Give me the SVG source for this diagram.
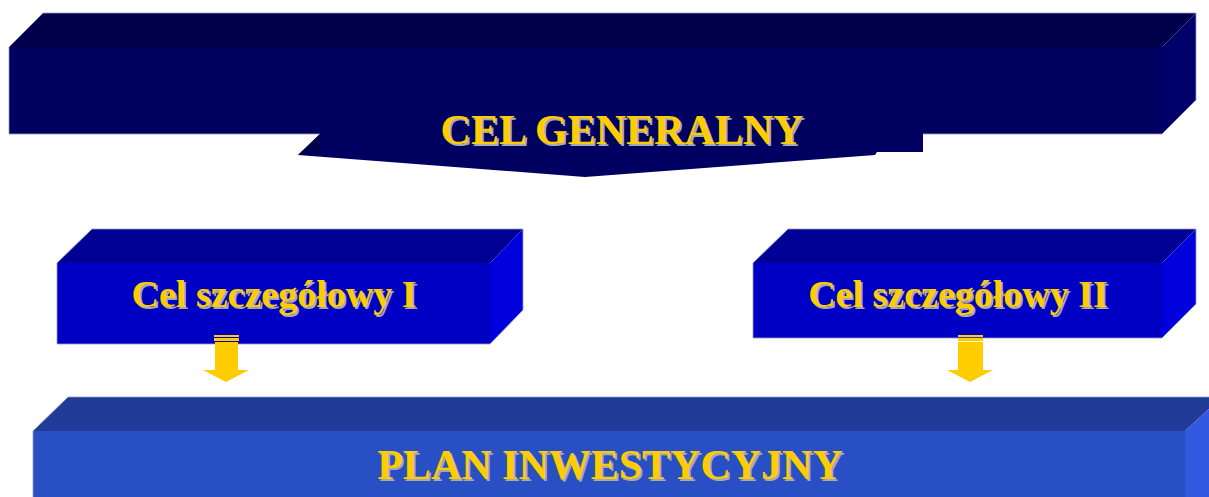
<svg xmlns="http://www.w3.org/2000/svg" width="1209" height="497" viewBox="0 0 1209 497">
<defs>
<style>
.t{font-family:"Liberation Serif","Times New Roman",serif;font-weight:bold;text-anchor:middle}
.sh{fill:#a8a8b0}
.fg{fill:#ffcc00}
.edge{fill:none;stroke:#9a9ac4;stroke-width:0.8}
.arrow{fill:#ffcc00}
</style>
</defs>
<rect width="1209" height="497" fill="#ffffff"/>
<g id="cel-generalny">
<polygon points="9,47 43,13 1196,13 1162,47" fill="#00004a"/>
<rect x="9" y="47" width="1153" height="87" fill="#000060"/>
<polygon points="1162,47 1196,13 1196,100 1162,134" fill="#00006a"/>
<polyline class="edge" points="9,134 9,47 43,13 1196,13 1196,100 1162,134 923,134"/>
<line class="edge" x1="9" y1="134" x2="320" y2="134"/>
<polygon points="320,134 923,134 923,152 877,152 875,155 585,177 298,155" fill="#000060"/>
<polygon points="298,155 320,134 320,152" fill="#00004a"/>
<rect x="320" y="120" width="603" height="20" fill="#000060"/>
<text class="t sh" x="624" y="146" font-size="42">CEL GENERALNY</text>
<text class="t fg" x="622" y="144" font-size="42">CEL GENERALNY</text>
</g>
<g id="cel-szczegolowy-1">
<polygon points="57,263 92,229 523,229 490,263" fill="#000094"/>
<rect x="57" y="263" width="433" height="81" fill="#0000c4"/>
<polygon points="490,263 523,229 523,310 490,344" fill="#0000dc"/>
<polygon class="edge" points="57,344 57,263 92,229 523,229 523,310 490,344"/>
<text class="t sh" x="276" y="309" font-size="38">Cel szczegółowy I</text>
<text class="t fg" x="274" y="307" font-size="38">Cel szczegółowy I</text>
</g>
<g id="cel-szczegolowy-2">
<polygon points="753,263 788,229 1196,229 1162,263" fill="#000094"/>
<rect x="753" y="263" width="409" height="75" fill="#0000c4"/>
<polygon points="1162,263 1196,229 1196,304 1162,338" fill="#0000dc"/>
<polygon class="edge" points="753,338 753,263 788,229 1196,229 1196,304 1162,338"/>
<text class="t sh" x="960" y="309" font-size="38">Cel szczegółowy II</text>
<text class="t fg" x="958" y="307" font-size="38">Cel szczegółowy II</text>
</g>
<g id="plan-inwestycyjny">
<polygon points="33,431 68,397 1222,397 1185,431" fill="#203c98"/>
<rect x="33" y="431" width="1152" height="80" fill="#2850c4"/>
<polygon points="1185,431 1222,397 1222,511 1185,511" fill="#3058e0"/>
<polyline class="edge" points="33,511 33,431 68,397 1222,397"/>
<text class="t sh" x="612" y="481" font-size="42">PLAN INWESTYCYJNY</text>
<text class="t fg" x="610" y="479" font-size="42">PLAN INWESTYCYJNY</text>
</g>
<g id="connectors">
<g>
<rect class="arrow" x="214" y="335" width="25" height="2"/>
<rect class="arrow" x="214" y="338" width="25" height="3"/>
<polygon class="arrow" points="215,342 238,342 238,370 249,370 226,382 203,370 215,370"/>
</g>
<g>
<rect class="arrow" x="958" y="335" width="25" height="2"/>
<rect class="arrow" x="958" y="338" width="25" height="3"/>
<polygon class="arrow" points="958,342 983,342 983,370 993,370 970,382 947,370 958,370"/>
</g>
</g>
</svg>
